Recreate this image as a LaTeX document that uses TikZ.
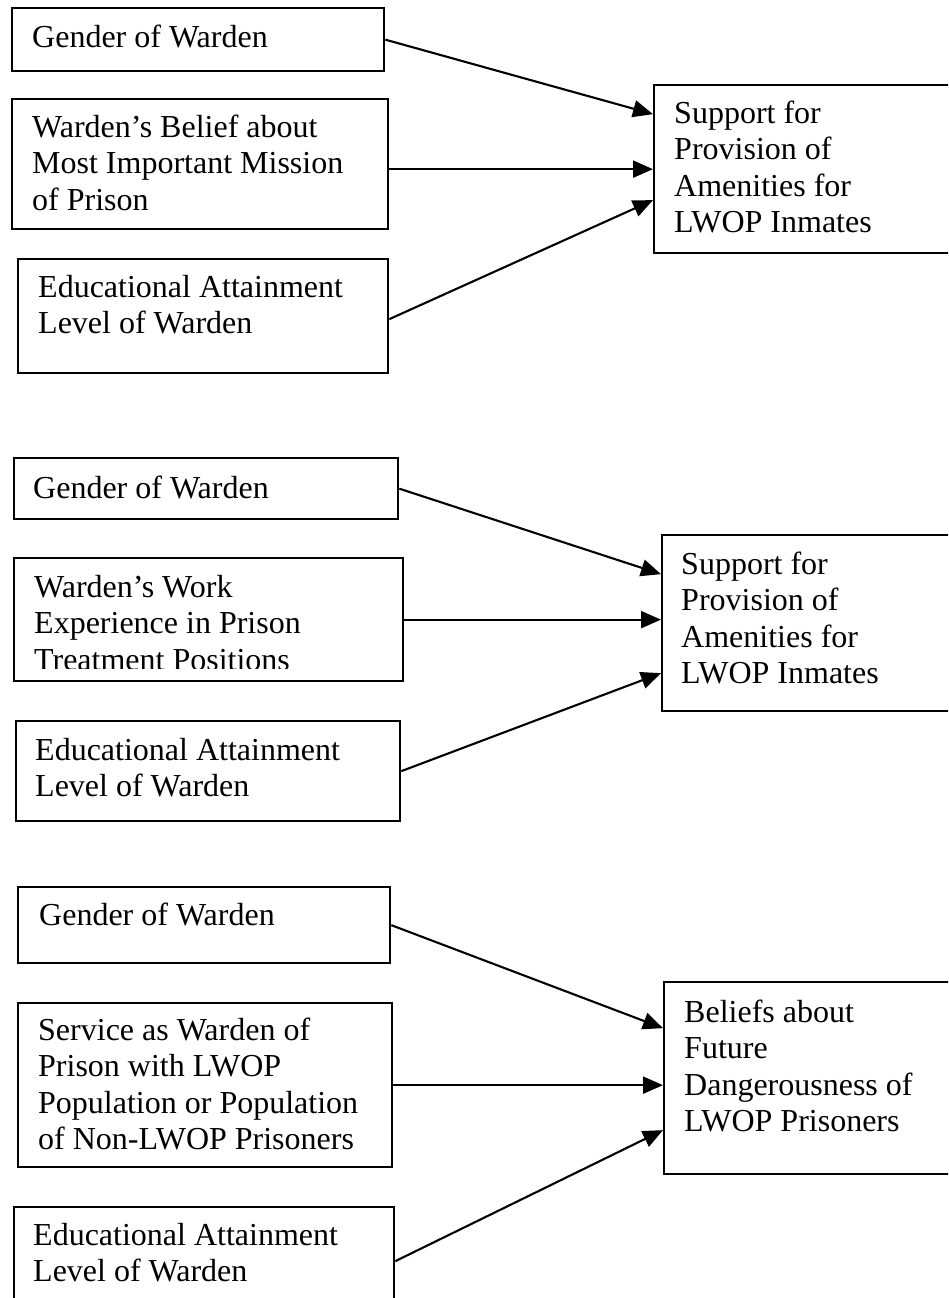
\documentclass[tikz,border=0pt]{standalone}
\usepackage{fontspec}
\setmainfont{Liberation Serif}
\usetikzlibrary{arrows.meta}
\begin{document}
\begin{tikzpicture}[x=1pt,y=-1pt,
  box/.style={draw, line width=2.3pt, inner sep=0pt, anchor=north west},
  lbl/.style={anchor=base west, inner sep=0pt, align=left, font=\fontsize{32}{36.6}\selectfont},
  conn/.style={line width=2.1pt, -{Triangle[length=20pt,width=17pt]}}]
\clip (0,0) rectangle (948,1298);
\fill[white] (0,0) rectangle (948,1298);

% ---------- Section 1 ----------
\node[box, minimum width=372pt, minimum height=63pt] (g1) at (11,7) {};
\node[box, minimum width=376pt, minimum height=130pt] (b1) at (11,98) {};
\node[box, minimum width=370pt, minimum height=114pt] (e1) at (17,258) {};
\node[box, minimum width=320pt, minimum height=168pt] (t1) at (653,84) {};
% labels anchored at the baseline of their last line
\node[lbl] (g1t) at (32,48) {Gender of Warden};
\node[lbl] (b1t) at (32,210.2) {Warden’s Belief about\\Most Important Mission\\of Prison};
\node[lbl] (e1t) at (38,333.6) {Educational Attainment\\Level of Warden};
\node[lbl] (t1t) at (674,232.8) {Support for\\Provision of\\Amenities for\\LWOP Inmates};
\draw[conn] (g1.east) -- ([yshift=55pt]t1.west);
\draw[conn] ([yshift=-5pt]b1.east) -- (t1.west);
\draw[conn] ([yshift=-3pt]e1.east) -- ([yshift=-31pt]t1.west);

% ---------- Section 2 ----------
\node[box, minimum width=384pt, minimum height=61pt] (g2) at (13,457) {};
\node[box, minimum width=389pt, minimum height=123pt] (w2) at (13,557) {};
\node[box, minimum width=384pt, minimum height=100pt] (e2) at (15,720) {};
\node[box, minimum width=310pt, minimum height=176pt] (t2) at (661,534) {};
\node[lbl] (g2t) at (33,498) {Gender of Warden};
\begin{scope}
  \clip (14,558) rectangle (401,668);
  \node[lbl] (w2t) at (34,670.2) {Warden’s Work\\Experience in Prison\\Treatment Positions};
\end{scope}
\node[lbl] (e2t) at (35,796.6) {Educational Attainment\\Level of Warden};
\node[lbl] (t2t) at (681,683.8) {Support for\\Provision of\\Amenities for\\LWOP Inmates};
\draw[conn] (g2.east) -- ([yshift=49pt]t2.west);
\draw[conn] (w2.east) -- (w2.east -| t2.west);
\draw[conn] (e2.east) -- ([yshift=-50pt]t2.west);

% ---------- Section 3 ----------
\node[box, minimum width=372pt, minimum height=76pt] (g3) at (17,886) {};
\node[box, minimum width=374pt, minimum height=164pt] (s3) at (17,1002) {};
\node[box, minimum width=380pt, minimum height=98pt] (e3) at (13,1206) {};
\node[box, minimum width=310pt, minimum height=192pt] (t3) at (663,981) {};
\node[lbl] (g3t) at (39,925) {Gender of Warden};
\node[lbl] (s3t) at (38,1149.8) {Service as Warden of\\Prison with LWOP\\Population or Population\\of Non-LWOP Prisoners};
\node[lbl] (e3t) at (33,1281.6) {Educational Attainment\\Level of Warden};
\node[lbl] (t3t) at (684,1131.8) {Beliefs about\\Future\\Dangerousness of\\LWOP Prisoners};
\draw[conn] (g3.east) -- ([yshift=50pt]t3.west);
\draw[conn] (s3.east) -- (s3.east -| t3.west);
\draw[conn] ([yshift=-5pt]e3.east) -- ([yshift=-52pt]t3.west);
\end{tikzpicture}
\end{document}
